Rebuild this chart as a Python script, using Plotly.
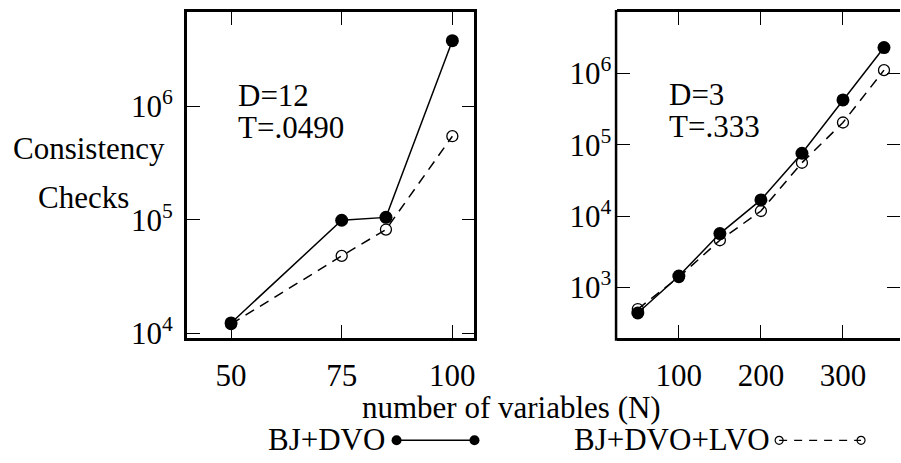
import plotly.graph_objects as go

# ---- data -------------------------------------------------------------
left_n = [50, 75, 85, 100]
left_bj_dvo = [12300, 99000, 105000, 3.8e6]
left_bj_dvo_lvo = [12000, 48000, 82000, 546000]

right_n = [50, 100, 150, 200, 250, 300, 350]
right_bj_dvo = [440, 1450, 5700, 16900, 76000, 425000, 2.3e6]
right_bj_dvo_lvo = [500, 1400, 4600, 11800, 56000, 205000, 1.11e6]

left_xticks = [50, 75, 100]
right_xticks = [100, 200, 300]
left_yticks = [1e4, 1e5, 1e6]
right_yticks = [1e3, 1e4, 1e5, 1e6]

series_names = ["BJ+DVO", "BJ+DVO+LVO"]
left_params = ["D=12", "T=.0490"]
right_params = ["D=3", "T=.333"]
x_title = "number of variables (N)"
y_title = ["Consistency", "Checks"]

# ---- layout helpers ---------------------------------------------------
W, H = 901, 463
FONT = "Liberation Serif"
FS = 31


def px(x):
    return x / W


def py(y):
    return 1 - y / H


def pow_label(v):
    e = len(str(int(round(v)))) - 1
    return f"10<sup>{e}</sup>"


solid_line = dict(color="black", width=1.5)
dashed_line = dict(color="black", width=1.5, dash="10px,7px")
solid_marker = dict(symbol="circle", size=13, color="black")
open_marker = dict(symbol="circle-open", size=11, color="black", line=dict(width=1.3))

fig = go.Figure()

# left panel
fig.add_trace(go.Scatter(x=left_n, y=left_bj_dvo_lvo, mode="lines+markers",
                         line=dashed_line, marker=open_marker,
                         xaxis="x", yaxis="y", showlegend=False))
fig.add_trace(go.Scatter(x=left_n, y=left_bj_dvo, mode="lines+markers",
                         line=solid_line, marker=solid_marker,
                         xaxis="x", yaxis="y", showlegend=False))
# right panel
fig.add_trace(go.Scatter(x=right_n, y=right_bj_dvo, mode="lines+markers",
                         line=solid_line, marker=solid_marker,
                         xaxis="x2", yaxis="y2", showlegend=False))
fig.add_trace(go.Scatter(x=right_n, y=right_bj_dvo_lvo, mode="lines+markers",
                         line=dashed_line, marker=open_marker,
                         xaxis="x2", yaxis="y2", showlegend=False))

# key samples drawn on a hidden pixel-space strip along the bottom edge
KEY_TOP = 423
key_y = 453
key_rows = [
    dict(name=series_names[0], text_right=387, x0=397, x1=475,
         line=solid_line, marker=dict(symbol="circle", size=10, color="black")),
    dict(name=series_names[1], text_right=773, x0=780, x1=862,
         line=dict(color="black", width=1.3, dash="8px,7px"),
         marker=dict(symbol="circle-open", size=8, color="black", line=dict(width=1.2))),
]
for row in key_rows:
    fig.add_trace(go.Scatter(x=[row["x0"], row["x1"]], y=[key_y, key_y],
                             mode="lines+markers", line=row["line"], marker=row["marker"],
                             xaxis="x3", yaxis="y3", showlegend=False, hoverinfo="skip",
                             cliponaxis=False))

axis_common = dict(
    showline=True, linewidth=2.5, linecolor="black", mirror="ticks",
    ticks="inside", ticklen=13, tickwidth=1.3, tickcolor="black",
    showgrid=False, zeroline=False,
    tickfont=dict(family=FONT, size=FS, color="black"),
)

ydom = [py(348), py(12.7)]
right_left_edge = 618

# the right panel's frame runs past the page edge, so its y axis keeps the
# mirrored ticks but its vertical frame line is drawn only on the left side
right_y_axis = dict(axis_common, showline=False)

fig.update_layout(
    width=W, height=H,
    margin=dict(l=0, r=0, t=0, b=0),
    paper_bgcolor="white", plot_bgcolor="rgba(0,0,0,0)",
    font=dict(family=FONT, size=FS, color="black"),
    xaxis=dict(domain=[px(187), px(475)], range=[40, 105],
               tickvals=left_xticks, ticktext=[str(v) for v in left_xticks],
               ticklabelstandoff=8, anchor="y", **axis_common),
    yaxis=dict(domain=ydom, type="log", range=[3.955, 6.83],
               tickvals=left_yticks, ticktext=[pow_label(v) for v in left_yticks],
               ticklabelstandoff=5, anchor="x", **axis_common),
    xaxis2=dict(domain=[px(right_left_edge), 1.0], range=[25, 369.5],
                tickvals=right_xticks, ticktext=[str(v) for v in right_xticks],
                ticklabelstandoff=8, anchor="y2", **axis_common),
    yaxis2=dict(domain=ydom, type="log", range=[2.29, 6.855],
                tickvals=right_yticks, ticktext=[pow_label(v) for v in right_yticks],
                ticklabelstandoff=5, anchor="x2", **right_y_axis),
    xaxis3=dict(domain=[0, 1], range=[0, W], visible=False, fixedrange=True, anchor="y3"),
    yaxis3=dict(domain=[0, py(KEY_TOP)], range=[H, KEY_TOP], visible=False,
                fixedrange=True, anchor="x3"),
    shapes=[dict(type="line", xref="paper", yref="paper",
                 x0=px(right_left_edge - 1.25), x1=px(right_left_edge - 1.25),
                 y0=ydom[0] - 2.5 / H, y1=ydom[1] + 2.5 / H,
                 line=dict(color="black", width=2.5))],
)

annotations = []


def text_at(x, y, s, xanchor="left"):
    annotations.append(dict(x=px(x), y=py(y), xref="paper", yref="paper", text=s,
                            showarrow=False, xanchor=xanchor, yanchor="middle",
                            font=dict(family=FONT, size=FS, color="black")))


text_at(236, 98, left_params[0])
text_at(236, 131, left_params[1])
text_at(668, 97, right_params[0])
text_at(668, 130, right_params[1])
text_at(89, 153, y_title[0], "center")
text_at(84, 203, y_title[1], "center")
text_at(512, 419, x_title, "center")
for row in key_rows:
    text_at(row["text_right"], key_y - 1, row["name"], "right")

fig.update_layout(annotations=annotations)

fig.write_html("out.html")
